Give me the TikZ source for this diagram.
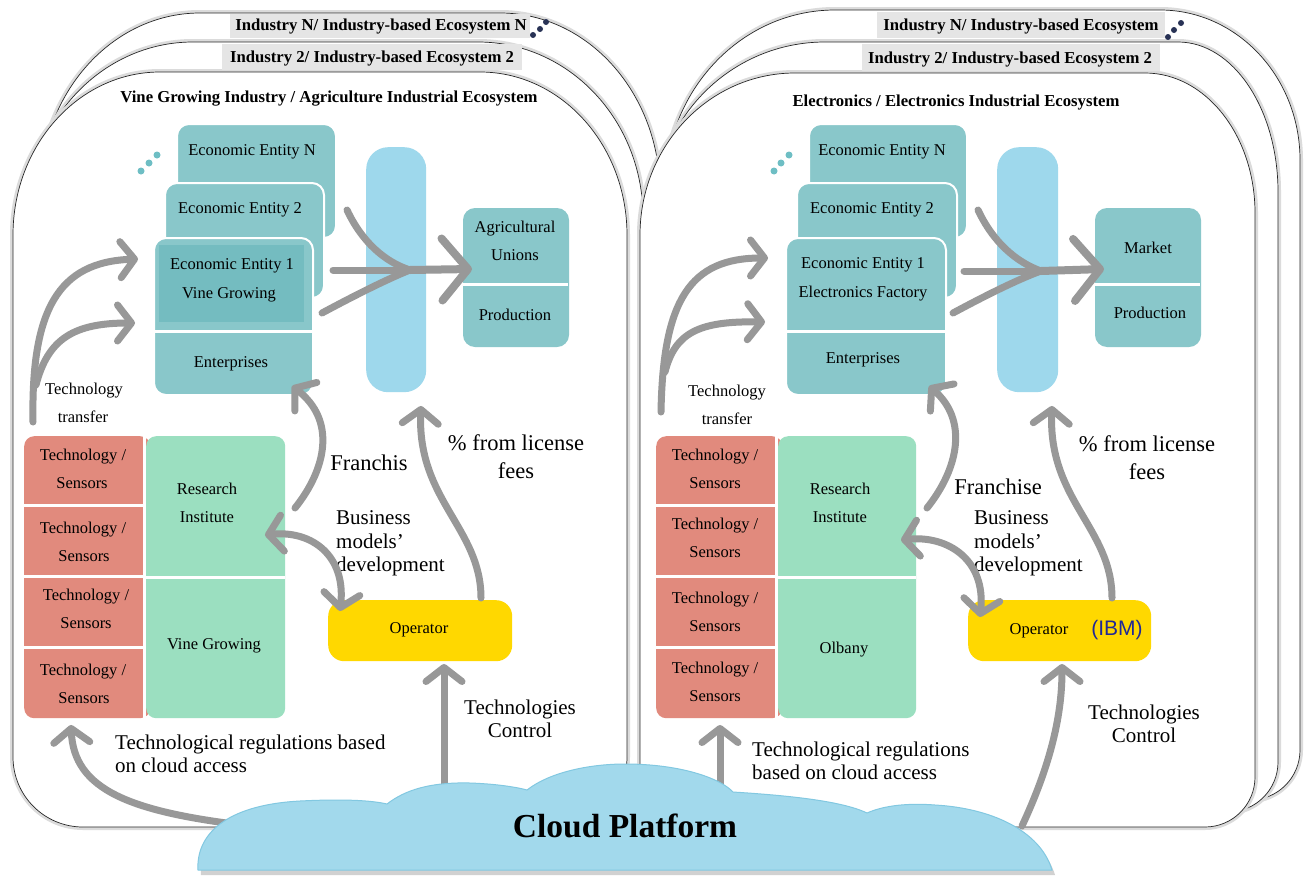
\documentclass[tikz,border=0pt]{standalone}
\usepackage{fontspec}
\setmainfont{Liberation Serif}
\newfontfamily\ibmfont{Liberation Sans}
\usetikzlibrary{arrows.meta}
\definecolor{tealA}{RGB}{137,199,202}
\definecolor{tealB}{RGB}{116,188,192}
\definecolor{tealD}{RGB}{110,190,196}
\definecolor{barblue}{RGB}{158,216,236}
\definecolor{redA}{RGB}{225,138,125}
\definecolor{greenA}{RGB}{155,223,192}
\definecolor{yellowA}{RGB}{255,216,0}
\definecolor{arrgray}{RGB}{152,152,152}
\definecolor{cloudA}{RGB}{162,217,236}
\definecolor{cloudB}{RGB}{130,200,225}
\definecolor{navyA}{RGB}{40,50,85}
\definecolor{ibmblue}{RGB}{32,40,150}
% L T R B rxl ryl rxr ryr rb
\newcommand{\ecopanel}[9]{%
 \path[panel] (#1,#4-#9) -- (#1,#2+#6)
  .. controls (#1,#2+0.448*#6) and (#1+0.448*#5,#2) .. (#1+#5,#2)
  -- (#3-#7,#2)
  .. controls (#3-0.448*#7,#2) and (#3,#2+0.448*#8) .. (#3,#2+#8)
  -- (#3,#4-#9)
  .. controls (#3,#4-0.448*#9) and (#3-0.448*#9,#4) .. (#3-#9,#4)
  -- (#1+#9,#4)
  .. controls (#1+0.448*#9,#4) and (#1,#4-0.448*#9) .. cycle;}
\newcommand{\cloudpath}{(198,870) .. controls (196,835) and (225,805) .. (300,801)
  .. controls (340,799) and (370,800) .. (387,804)
  .. controls (405,790) and (430,782) .. (470,783)
  .. controls (500,784) and (520,788) .. (527,790)
  .. controls (550,772) and (590,764) .. (625,764)
  .. controls (680,764) and (720,778) .. (733,792)
  .. controls (780,795) and (840,800) .. (867,813)
  .. controls (885,805) and (910,803) .. (935,805)
  .. controls (990,808) and (1040,830) .. (1052,870) -- cycle}
\begin{document}
\begin{tikzpicture}[x=1pt,y=-1pt,
 panel/.style={fill=white, draw=black!85, line width=0.7pt, preaction={draw=black!14, line width=6pt}},
 tx/.style={font=\fontsize{16.5}{19}\selectfont, inner sep=0pt, anchor=base},
 tl/.style={font=\fontsize{22.5}{17}\selectfont, inner sep=0pt, anchor=base},
 tm/.style={font=\fontsize{21}{17}\selectfont, inner sep=0pt, anchor=base},
 tmw/.style={font=\fontsize{21}{17}\selectfont, inner sep=0pt, anchor=base west},
 hd/.style={font=\bfseries\fontsize{16.7}{20}\selectfont, inner sep=0pt, anchor=base},
 ebox/.style={fill=tealA, draw=white, line width=2pt, rounded corners=12pt, anchor=north west, inner sep=0pt},
 bbox/.style={fill=barblue, rounded corners=22pt, anchor=north west, inner sep=0pt},
 rbox/.style={fill=redA, rounded corners=10pt, anchor=north west, inner sep=0pt},
 gbox/.style={fill=greenA, rounded corners=10pt, anchor=north west, inner sep=0pt},
 obox/.style={fill=yellowA, rounded corners=16pt, anchor=north west, inner sep=0pt},
 sep/.style={draw=white, line width=3pt},
 band/.style={fill=black!10},
 arr/.style={draw=arrgray, line width=7pt, line cap=round, -{Straight Barb[round,length=14pt,width=36pt]}},
 arrtwo/.style={draw=arrgray, line width=7pt, line cap=round, {Straight Barb[round,length=14pt,width=36pt]}-{Straight Barb[round,length=14pt,width=36pt]}},
 arrbig/.style={draw=arrgray, line width=8pt, line cap=round, -{Straight Barb[round,length=26pt,width=62pt]}},
 arrline/.style={draw=arrgray, line width=7pt, line cap=round},
 hdot/.style={fill=navyA},
 tdot/.style={fill=tealD}]
\useasboundingbox (0,0) rectangle (1306,878);
\fill[white] (0,0) rectangle (1306,878);

% ---------- ecosystem panels ----------
\ecopanel{40}{13}{660}{800}{160}{180}{160}{180}{60}
\ecopanel{28}{42}{643}{812}{165}{175}{165}{175}{60}
\ecopanel{13}{72}{627}{827}{147}{163}{147}{163}{70}
\ecopanel{665}{10}{1300}{800}{170}{180}{140}{150}{50}
\ecopanel{655}{42}{1278}{812}{170}{170}{100}{150}{50}
\ecopanel{640}{73}{1255}{827}{155}{162}{110}{140}{50}

% ---------- headers ----------
\fill[band] (230,14) rectangle (530,38);
\fill[band] (222,44) rectangle (522,70);
\fill[band] (877,12) rectangle (1165,38);
\fill[band] (862,44) rectangle (1160,71);
\node[hd] (hLN) at (381,30) {Industry N/ Industry-based Ecosystem N};
\node[hd] (hL2) at (372,62) {Industry 2/ Industry-based Ecosystem 2};
\node[hd] (hL1) at (329,102) {Vine Growing Industry / Agriculture Industrial Ecosystem};
\node[hd] (hRN) at (1021,30) {Industry N/ Industry-based Ecosystem};
\node[hd] (hR2) at (1010,63) {Industry 2/ Industry-based Ecosystem 2};
\node[hd] (hR1) at (956,106) {Electronics / Electronics Industrial Ecosystem};
\fill[hdot] (533,35) circle (3) (540,29) circle (3) (546,22) circle (3);
\fill[hdot] (1168,37) circle (3) (1174,30) circle (3) (1181,23) circle (3);

% ---------- left: entities ----------
\node[ebox, minimum width=159pt, minimum height=114pt] (LeN) at (176,123) {};
\node[ebox, minimum width=159pt, minimum height=115pt] (Le2) at (164,182) {};
\node[ebox, minimum width=159pt, minimum height=157pt] (Le1) at (153,237) {};
\fill[tealB] (159,245) rectangle (304,322);
\draw[sep] (153,331.5) -- (312,331.5);
\fill[tdot] (141,171) circle (3.5) (149,163) circle (3.5) (157,155) circle (3.5);
\node[tx] (tLeN) at (252,155) {Economic Entity N};
\node[tx] (tLe2) at (240,213) {Economic Entity 2};
\node[tx] (tLe1) at (232,269) {Economic Entity 1};
\node[tx] (tLe1b) at (229,298) {Vine Growing};
\node[tx] (tLent) at (231,367) {Enterprises};
\node[bbox, minimum width=60pt, minimum height=245pt] (Lbar) at (366,147) {};
\node[ebox, draw=none, minimum width=106pt, minimum height=139pt] (Lagri) at (462,207) {};
\draw[sep] (462,284) -- (568,284);
\node[tx] (tLag1) at (515,232) {Agricultural};
\node[tx] (tLag2) at (515,260) {Unions};
\node[tx] (tLprod) at (515,320) {Production};

% ---------- left: lower block ----------
\node[rbox, minimum width=126pt, minimum height=282pt] (Lred) at (24,436) {};
\node[gbox, minimum width=139pt, minimum height=282pt] (Lgreen) at (146,436) {};
\draw[sep] (144.5,436) -- (144.5,718);
\draw[sep] (24,505.5) -- (144,505.5) (24,576.5) -- (144,576.5) (24,647.5) -- (144,647.5);
\draw[sep] (146,577) -- (285,577);
\node[tx] (tLr1a) at (83,460) {Technology /};
\node[tx] (tLr1b) at (82,488) {Sensors};
\node[tx] (tLr2a) at (83,533) {Technology /};
\node[tx] (tLr2b) at (84,561) {Sensors};
\node[tx] (tLr3a) at (86,600) {Technology /};
\node[tx] (tLr3b) at (86,628) {Sensors};
\node[tx] (tLr4a) at (83,675) {Technology /};
\node[tx] (tLr4b) at (84,703) {Sensors};
\node[tx] (tLres1) at (207,494) {Research};
\node[tx] (tLres2) at (207,522) {Institute};
\node[tx] (tLvine) at (214,649) {Vine Growing};
\node[obox, minimum width=184pt, minimum height=61pt] (Lop) at (328,600) {};
\node[tx] (tLop) at (419,633) {Operator};
\node[tx] (tLtt1) at (84,394) {Technology};
\node[tx] (tLtt2) at (83,422) {transfer};
\node[tl] (tLfr) at (369,470) {Franchis};
\node[tl] (tLlic1) at (516,450) {\% from license};
\node[tl] (tLlic2) at (516,478) {fees};
\node[tmw] (tLbm1) at (336,524.5) {Business};
\node[tmw] (tLbm2) at (336,548) {models'};
\node[tmw] (tLbm3) at (336,571.5) {development};
\node[tmw] (tLreg1) at (115,749) {Technological regulations based};
\node[tmw] (tLreg2) at (115,772.5) {on cloud access};
\node[tm] (tLtc1) at (520,714) {Technologies};
\node[tm] (tLtc2) at (520,737.5) {Control};

% ---------- right: entities ----------
\node[ebox, minimum width=158pt, minimum height=114pt] (ReN) at (808,123) {};
\node[ebox, minimum width=160pt, minimum height=115pt] (Re2) at (796,182) {};
\node[ebox, minimum width=160pt, minimum height=157pt] (Re1) at (785,237) {};
\draw[sep] (785,331.5) -- (945,331.5);
\fill[tdot] (774,171) circle (3.5) (781,163) circle (3.5) (789,155) circle (3.5);
\node[tx] (tReN) at (882,155) {Economic Entity N};
\node[tx] (tRe2) at (872,213) {Economic Entity 2};
\node[tx] (tRe1) at (863,268) {Economic Entity 1};
\node[tx] (tRe1b) at (863,297) {Electronics Factory};
\node[tx] (tRent) at (863,363) {Enterprises};
\node[bbox, minimum width=61pt, minimum height=245pt] (Rbar) at (997,147) {};
\node[ebox, draw=none, minimum width=106pt, minimum height=139pt] (Rmkt) at (1094,207) {};
\draw[sep] (1094,284) -- (1200,284);
\node[tx] (tRmkt) at (1148,253) {Market};
\node[tx] (tRprod) at (1150,318) {Production};

% ---------- right: lower block ----------
\node[rbox, minimum width=126pt, minimum height=282pt] (Rred) at (656,436) {};
\node[gbox, minimum width=138pt, minimum height=282pt] (Rgreen) at (778,436) {};
\draw[sep] (776.5,436) -- (776.5,718);
\draw[sep] (656,505.5) -- (776,505.5) (656,576.5) -- (776,576.5) (656,647.5) -- (776,647.5);
\draw[sep] (778,577) -- (916,577);
\node[tx] (tRr1a) at (715,460) {Technology /};
\node[tx] (tRr1b) at (715,488) {Sensors};
\node[tx] (tRr2a) at (715,529) {Technology /};
\node[tx] (tRr2b) at (715,557) {Sensors};
\node[tx] (tRr3a) at (715,603) {Technology /};
\node[tx] (tRr3b) at (715,631) {Sensors};
\node[tx] (tRr4a) at (715,673) {Technology /};
\node[tx] (tRr4b) at (715,701) {Sensors};
\node[tx] (tRres1) at (840,494) {Research};
\node[tx] (tRres2) at (840,522) {Institute};
\node[tx] (tRolb) at (844,653) {Olbany};
\node[obox, minimum width=183pt, minimum height=61pt] (Rop) at (968,600) {};
\node[tx] (tRop) at (1039,634) {Operator};
\node[font=\ibmfont\fontsize{21}{24}\selectfont, text=ibmblue, inner sep=0pt, anchor=base] (tRibm) at (1117,635) {(IBM)};
\node[tx] (tRtt1) at (727,396) {Technology};
\node[tx] (tRtt2) at (727,424) {transfer};
\node[tl] (tRfr) at (998,494) {Franchise};
\node[tl] (tRlic1) at (1147,451) {\% from license};
\node[tl] (tRlic2) at (1147,479) {fees};
\node[tmw] (tRbm1) at (974,524.5) {Business};
\node[tmw] (tRbm2) at (974,548) {models'};
\node[tmw] (tRbm3) at (974,571.5) {development};
\node[tmw] (tRreg1) at (752,756) {Technological regulations};
\node[tmw] (tRreg2) at (752,779.5) {based on cloud access};
\node[tm] (tRtc1) at (1144,719) {Technologies};
\node[tm] (tRtc2) at (1144,742.5) {Control};

% ---------- arrow end coordinates ----------
\coordinate (LttS) at (33,422);   \coordinate (LttA) at (138,259);
\coordinate (LttS2) at (36,385);  \coordinate (LttB) at (135,323);
\coordinate (Lc1) at (347,210); \coordinate (Lc2) at (333,270); \coordinate (Lc3) at (322,313);
\coordinate (Lcm) at (410,270); \coordinate (LcE) at (472,269);
\coordinate (LfrS) at (295,508); \coordinate (LfrE) at (292,386);
\coordinate (LliS) at (481,598); \coordinate (LliE) at (421,406);
\coordinate (LbmA) at (265,535); \coordinate (LbmB) at (340,611);
\coordinate (LrgS) at (250,826); \coordinate (LrgE) at (71,725);
\coordinate (LtcS) at (444,800); \coordinate (LtcE) at (444,664);
\coordinate (RttS) at (661,412);  \coordinate (RttA) at (768,258);
\coordinate (RttS2) at (665,372); \coordinate (RttB) at (765,322);
\coordinate (Rc1) at (978,210); \coordinate (Rc2) at (964,271); \coordinate (Rc3) at (953,313);
\coordinate (Rcm) at (1041,271); \coordinate (RcE) at (1104,269);
\coordinate (RfrS) at (927,508); \coordinate (RfrE) at (929,386);
\coordinate (RliS) at (1112,598); \coordinate (RliE) at (1052,406);
\coordinate (RbmA) at (901,540); \coordinate (RbmB) at (980,617);
\coordinate (RrgS) at (720,800); \coordinate (RrgE) at (720,725);
\coordinate (RtcS) at (1022,826); \coordinate (RtcE) at (1062,664);

% ---------- arrows left ----------
\draw[arr] (LttS) .. controls (31,310) and (58,262) .. (LttA);
\draw[arr] (LttS2) .. controls (48,338) and (75,323) .. (LttB);
\draw[arrline] (Lc1) .. controls (362,242) and (385,262) .. (Lcm);
\draw[arrline] (Lc2) -- (Lcm);
\draw[arrline] (Lc3) .. controls (350,298) and (385,280) .. (Lcm);
\draw[arrbig] (Lcm) -- (LcE);
\draw[arr] (LfrS) .. controls (327,468) and (336,420) .. (LfrE);
\draw[arr] (LliS) .. controls (481,528) and (417,500) .. (LliE);
\draw[arrtwo] (LbmA) .. controls (312,530) and (346,556) .. (LbmB);
\draw[arr] (LrgS) .. controls (130,812) and (74,790) .. (LrgE);
\draw[arr] (LtcS) -- (LtcE);

% ---------- arrows right ----------
\draw[arr] (RttS) .. controls (663,300) and (690,258) .. (RttA);
\draw[arr] (RttS2) .. controls (675,332) and (700,321) .. (RttB);
\draw[arrline] (Rc1) .. controls (993,242) and (1016,262) .. (Rcm);
\draw[arrline] (Rc2) -- (Rcm);
\draw[arrline] (Rc3) .. controls (981,298) and (1016,280) .. (Rcm);
\draw[arrbig] (Rcm) -- (RcE);
\draw[arr] (RfrS) .. controls (959,468) and (968,420) .. (RfrE);
\draw[arr] (RliS) .. controls (1112,528) and (1048,500) .. (RliE);
\draw[arrtwo] (RbmA) .. controls (948,535) and (986,560) .. (RbmB);
\draw[arr] (RrgS) -- (RrgE);
\draw[arr] (RtcS) .. controls (1048,770) and (1062,720) .. (RtcE);

% ---------- cloud ----------
\begin{scope}[shift={(3,5)}]
\fill[black!18] \cloudpath;
\end{scope}
\path[fill=cloudA, draw=cloudB, line width=1pt] \cloudpath;
\node[font=\bfseries\fontsize{33.5}{36}\selectfont, inner sep=0pt, anchor=base] (cloud) at (625,837) {Cloud Platform};
\end{tikzpicture}
\end{document}
